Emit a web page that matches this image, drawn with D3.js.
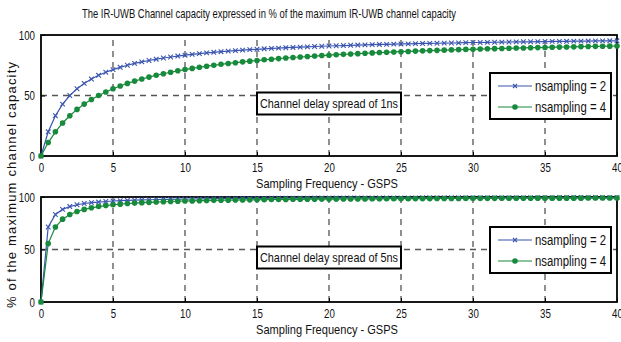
<!DOCTYPE html>
<html>
<head>
<meta charset="utf-8">
<script src="https://cdn.jsdelivr.net/npm/d3@7"></script>
<style>
  body { margin: 0; background: #fff; }
  svg { display: block; }
  text { font-family: "Liberation Sans Narrow", "Arial Narrow", "Liberation Sans", Arial, sans-serif; fill: #111; }
</style>
</head>
<body>
<script>
var width = 621,
    height = 342;

// sampling frequencies, GSPS (0 to 40 in steps of 0.5)
var freq = d3.range(0, 40.5, 0.5);

// delay spread 1ns
var cap1ns_n2 = [0,20.0,33.3,42.9,50.0,55.6,60.0,63.6,66.7,69.2,71.4,73.3,75.0,76.5,77.8,78.9,80.0,81.0,81.8,82.6,
  83.3,84.0,84.6,85.2,85.7,86.2,86.7,87.1,87.5,87.9,88.2,88.6,88.9,89.2,89.5,89.7,90.0,90.2,90.5,90.7,
  90.9,91.1,91.3,91.5,91.7,91.8,92.0,92.2,92.3,92.5,92.6,92.7,92.9,93.0,93.1,93.2,93.3,93.4,93.5,93.7,
  93.8,93.8,93.9,94.0,94.1,94.2,94.3,94.4,94.4,94.5,94.6,94.7,94.7,94.8,94.9,94.9,95.0,95.1,95.1,95.2,95.2];
var cap1ns_n4 = [0,11.1,20.0,27.3,33.3,38.5,42.9,46.7,50.0,52.9,55.6,57.9,60.0,61.9,63.6,65.2,66.7,68.0,69.2,70.4,
  71.4,72.4,73.3,74.2,75.0,75.8,76.5,77.1,77.8,78.4,78.9,79.5,80.0,80.5,81.0,81.4,81.8,82.2,82.6,83.0,
  83.3,83.7,84.0,84.3,84.6,84.9,85.2,85.5,85.7,86.0,86.2,86.4,86.7,86.9,87.1,87.3,87.5,87.7,87.9,88.1,
  88.2,88.4,88.6,88.7,88.9,89.0,89.2,89.3,89.5,89.6,89.7,89.9,90.0,90.1,90.2,90.4,90.5,90.6,90.7,90.8,90.9];

// delay spread 5ns
var cap5ns_n2 = [0,71.4,83.3,88.2,90.9,92.6,93.8,94.6,95.2,95.7,96.2,96.5,96.8,97.0,97.2,97.4,97.6,97.7,97.8,97.9,
  98.0,98.1,98.2,98.3,98.4,98.4,98.5,98.5,98.6,98.6,98.7,98.7,98.8,98.8,98.8,98.9,98.9,98.9,99.0,99.0,
  99.0,99.0,99.1,99.1,99.1,99.1,99.1,99.2,99.2,99.2,99.2,99.2,99.2,99.3,99.3,99.3,99.3,99.3,99.3,99.3,
  99.3,99.4,99.4,99.4,99.4,99.4,99.4,99.4,99.4,99.4,99.4,99.4,99.5,99.5,99.5,99.5,99.5,99.5,99.5,99.5,99.5];
var cap5ns_n4 = [0,55.6,71.4,78.9,83.3,86.2,88.2,89.7,90.9,91.8,92.6,93.2,93.8,94.2,94.6,94.9,95.2,95.5,95.7,96.0,
  96.2,96.3,96.5,96.6,96.8,96.9,97.0,97.1,97.2,97.3,97.4,97.5,97.6,97.6,97.7,97.8,97.8,97.9,97.9,98.0,
  98.0,98.0,98.1,98.1,98.2,98.2,98.3,98.3,98.4,98.4,98.4,98.4,98.5,98.5,98.5,98.6,98.6,98.6,98.6,98.7,
  98.7,98.7,98.7,98.7,98.8,98.8,98.8,98.8,98.8,98.9,98.9,98.9,98.9,98.9,98.9,98.9,99.0,99.0,99.0,99.0,99.0];

var xTicks = [0,5,10,15,20,25,30,35,40];
var yTicks = [0,50,100];
var seriesNames = ["nsampling = 2", "nsampling = 4"];
var seriesColors = ["#3a55b0", "#178a3c"];
var panelNotes = ["Channel delay spread of 1ns", "Channel delay spread of 5ns"];

var panels = [
  { top: 35, bottom: 156, s: [cap1ns_n2, cap1ns_n4], note: panelNotes[0], legendDy: 38 },
  { top: 197, bottom: 302, s: [cap5ns_n2, cap5ns_n4], note: panelNotes[1], legendDy: 30 }
];

var svg = d3.select("body").append("svg")
    .attr("width", width)
    .attr("height", height);

var x = d3.scaleLinear().domain([0, 40]).range([41, 617]);

// the reference uses a condensed face; squeeze text to its measured widths
function narrow(sel, perChar) {
  sel.each(function() {
    var t = d3.select(this);
    t.attr("textLength", t.text().length * perChar).attr("lengthAdjust", "spacingAndGlyphs");
  });
}

// title
svg.append("text")
  .attr("x", 269).attr("y", 18)
  .attr("text-anchor", "middle")
  .attr("font-size", 13)
  .attr("textLength", 374).attr("lengthAdjust", "spacingAndGlyphs")
  .text("The IR-UWB Channel capacity expressed in % of the maximum IR-UWB channel capacity");

// shared y label
svg.append("text")
  .attr("transform", "translate(16,185) rotate(-90)")
  .attr("text-anchor", "middle")
  .attr("font-size", 13)
  .attr("textLength", 246).attr("lengthAdjust", "spacing")
  .text("% of the maximum channel capacity");

panels.forEach(function(p) {
  var y = d3.scaleLinear().domain([0, 100]).range([p.bottom, p.top]);
  var g = svg.append("g");

  g.append("rect")
    .attr("x", x(0)).attr("y", y(100))
    .attr("width", x(40) - x(0)).attr("height", y(0) - y(100))
    .attr("fill", "#fff");

  // grid
  g.selectAll("line.vgrid").data(xTicks.slice(1, -1)).enter().append("line")
    .attr("x1", function(d) { return x(d); }).attr("x2", function(d) { return x(d); })
    .attr("y1", y(0)).attr("y2", y(100))
    .attr("stroke", "#555").attr("stroke-width", 1.3).attr("stroke-dasharray", "6,5");
  g.selectAll("line.hgrid").data([50]).enter().append("line")
    .attr("x1", x(0)).attr("x2", x(40))
    .attr("y1", function(d) { return y(d); }).attr("y2", function(d) { return y(d); })
    .attr("stroke", "#555").attr("stroke-width", 1.3).attr("stroke-dasharray", "6,5");

  // axes
  var ax = g.append("g").attr("transform", "translate(0," + y(0) + ")")
    .call(d3.axisBottom(x).tickValues(xTicks).tickSize(-4).tickPadding(7));
  var ay = g.append("g").attr("transform", "translate(" + x(0) + ",0)")
    .call(d3.axisLeft(y).tickValues(yTicks).tickSize(-4).tickPadding(6));
  [ax, ay].forEach(function(a) {
    a.select(".domain").remove();
    a.selectAll("line").attr("stroke", "#000");
    a.selectAll("text").attr("font-size", 13).attr("fill", "#111")
      .style("font-family", '"Liberation Sans Narrow", "Arial Narrow", "Liberation Sans", Arial, sans-serif');
    narrow(a.selectAll("text"), 5.4);
  });

  // frame
  g.append("rect")
    .attr("x", x(0)).attr("y", y(100))
    .attr("width", x(40) - x(0)).attr("height", y(0) - y(100))
    .attr("fill", "none").attr("stroke", "#000").attr("stroke-width", 1.8);

  // note box
  var nb = g.append("g").attr("transform", "translate(" + 257 + "," + (y(50) - 3) + ")");
  nb.append("rect").attr("width", 144).attr("height", 22)
    .attr("fill", "#fff").attr("stroke", "#000").attr("stroke-width", 2);
  nb.append("text").attr("x", 72).attr("y", 15.5).attr("text-anchor", "middle")
    .attr("font-size", 13).attr("textLength", 138).attr("lengthAdjust", "spacingAndGlyphs")
    .text(p.note);

  // series
  var line = d3.line()
    .x(function(d, i) { return x(freq[i]); })
    .y(function(d) { return y(d); });

  p.s.forEach(function(vals, k) {
    var c = seriesColors[k];
    g.append("path").datum(vals)
      .attr("d", line).attr("fill", "none")
      .attr("stroke", c).attr("stroke-width", 1.2);
    if (k === 0) {
      g.selectAll("path.xm" + k).data(vals).enter().append("path")
        .attr("transform", function(d, i) { return "translate(" + x(freq[i]) + "," + y(d) + ")"; })
        .attr("d", "M-2.3,-2.3L2.3,2.3M-2.3,2.3L2.3,-2.3")
        .attr("stroke", c).attr("stroke-width", 1.1);
    } else {
      g.selectAll("circle.m" + k).data(vals).enter().append("circle")
        .attr("cx", function(d, i) { return x(freq[i]); })
        .attr("cy", function(d) { return y(d); })
        .attr("r", 2.8).attr("fill", c);
    }
  });

  // legend
  var lg = g.append("g").attr("transform", "translate(" + 490 + "," + (y(100) + p.legendDy) + ")");
  lg.append("rect").attr("width", 121).attr("height", 46)
    .attr("fill", "#fff").attr("stroke", "#000").attr("stroke-width", 2);
  seriesNames.forEach(function(name, k) {
    var ry = 13 + k * 21;
    lg.append("line").attr("x1", 8).attr("x2", 42).attr("y1", ry).attr("y2", ry)
      .attr("stroke", seriesColors[k]).attr("stroke-width", 1.1);
    if (k === 0) {
      lg.append("path").attr("transform", "translate(25," + ry + ")")
        .attr("d", "M-2,-2L2,2M-2,2L2,-2").attr("stroke", seriesColors[k]).attr("stroke-width", 1.1);
    } else {
      lg.append("circle").attr("cx", 25).attr("cy", ry).attr("r", 2.8).attr("fill", seriesColors[k]);
    }
    lg.append("text").attr("x", 45).attr("y", ry + 5)
      .attr("font-size", 14).attr("textLength", 71).attr("lengthAdjust", "spacingAndGlyphs")
      .text(name);
  });

  // x label
  g.append("text")
    .attr("x", 327).attr("y", y(0) + 32)
    .attr("text-anchor", "middle")
    .attr("font-size", 13)
    .attr("textLength", 142).attr("lengthAdjust", "spacingAndGlyphs")
    .text("Sampling Frequency - GSPS");
});
</script>
</body>
</html>
